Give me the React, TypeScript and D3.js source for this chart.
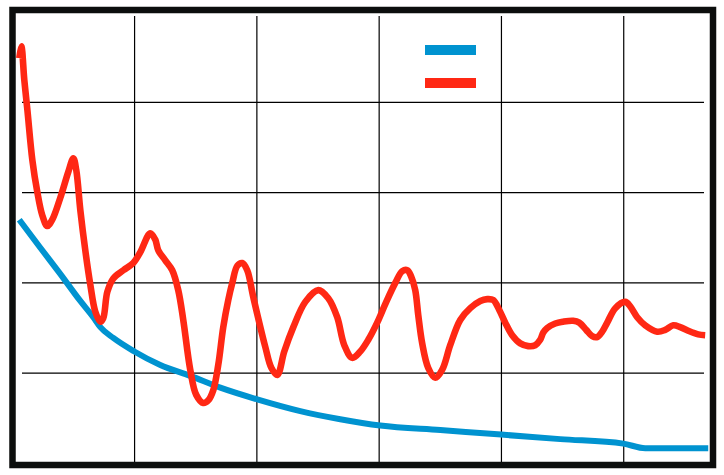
import React from "react";
import * as d3 from "d3";

const WIDTH = 724;
const HEIGHT = 475;

// x positions (data units) and values for the red series
const redX = [0.057, 0.074, 0.098, 0.123, 0.164, 0.204, 0.245, 0.286, 0.327, 0.392, 0.458, 0.499, 0.523, 0.556, 0.597, 0.638, 0.679, 0.72, 0.744, 0.777, 0.826, 0.908, 0.989, 1.047, 1.128, 1.169, 1.194, 1.251, 1.308, 1.357, 1.398, 1.455, 1.504, 1.562, 1.603, 1.643, 1.684, 1.725, 1.766, 1.799, 1.84, 1.881, 1.921, 1.971, 2.069, 2.118, 2.167, 2.224, 2.298, 2.396, 2.502, 2.584, 2.657, 2.715, 2.78, 2.845, 2.911, 2.984, 3.058, 3.132, 3.189, 3.23, 3.262, 3.295, 3.32, 3.352, 3.401, 3.459, 3.516, 3.581, 3.663, 3.745, 3.827, 3.884, 3.933, 3.982, 4.031, 4.088, 4.154, 4.219, 4.276, 4.317, 4.342, 4.374, 4.44, 4.505, 4.587, 4.636, 4.693, 4.742, 4.783, 4.824, 4.865, 4.931, 5.012, 5.053, 5.11, 5.176, 5.274, 5.339, 5.405, 5.462, 5.527, 5.609, 5.666];
const redY = [4.49, 4.62, 4.25, 3.92, 3.36, 3.01, 2.75, 2.63, 2.7, 2.94, 3.23, 3.38, 3.25, 2.81, 2.36, 1.98, 1.68, 1.57, 1.61, 1.9, 2.05, 2.14, 2.22, 2.34, 2.55, 2.48, 2.36, 2.25, 2.14, 1.92, 1.59, 1.04, 0.76, 0.67, 0.7, 0.81, 1.09, 1.51, 1.81, 2.0, 2.19, 2.22, 2.14, 1.84, 1.29, 1.06, 0.98, 1.24, 1.51, 1.79, 1.92, 1.83, 1.62, 1.31, 1.17, 1.24, 1.37, 1.56, 1.79, 2.0, 2.13, 2.14, 2.07, 1.92, 1.64, 1.33, 1.06, 0.95, 1.04, 1.31, 1.59, 1.72, 1.8, 1.82, 1.81, 1.7, 1.56, 1.42, 1.33, 1.3, 1.31, 1.37, 1.45, 1.5, 1.55, 1.57, 1.58, 1.56, 1.48, 1.41, 1.4, 1.46, 1.56, 1.72, 1.79, 1.74, 1.62, 1.53, 1.46, 1.48, 1.53, 1.51, 1.47, 1.43, 1.42];

// x positions and values for the blue series
const blueX = [0.057, 0.229, 0.392, 0.556, 0.662, 0.72, 0.826, 0.998, 1.21, 1.455, 1.701, 2.003, 2.355, 2.682, 3.009, 3.5, 3.998, 4.481, 4.996, 5.176, 5.691];
const blueY = [2.7, 2.39, 2.1, 1.8, 1.62, 1.51, 1.39, 1.24, 1.09, 0.97, 0.84, 0.71, 0.58, 0.49, 0.42, 0.37, 0.32, 0.27, 0.22, 0.17, 0.17];

const xTicks = [1, 2, 3, 4, 5];
const yTicks = [1, 2, 3, 4];

const BLUE = "#0093d0";
const RED = "#ff2814";

export default function App() {
  const x = d3.scaleLinear().domain([0, 5.73]).range([12.3, 713]);
  const y = d3.scaleLinear().domain([0, 5]).range([463.5, 12]);

  const line = d3
    .line<[number, number]>()
    .x((d) => x(d[0]))
    .y((d) => y(d[1]))
    .curve(d3.curveCatmullRom.alpha(0.5));

  const blueLine = d3
    .line<[number, number]>()
    .x((d) => x(d[0]))
    .y((d) => y(d[1]))
    .curve(d3.curveMonotoneX);

  const redData: [number, number][] = redX.map((v, i) => [v, redY[i]]);
  const blueData: [number, number][] = blueX.map((v, i) => [v, blueY[i]]);

  return (
    <svg
      width={WIDTH}
      height={HEIGHT}
      style={{ position: "absolute", left: 0, top: 0, background: "#fff" }}
    >
      <rect x={0} y={0} width={WIDTH} height={HEIGHT} fill="#fff" />
      {xTicks.map((t) => (
        <line
          key={"vx" + t}
          x1={x(t)}
          x2={x(t)}
          y1={16}
          y2={463}
          stroke="#000"
          strokeWidth={1.2}
        />
      ))}
      {yTicks.map((t) => (
        <line
          key={"hy" + t}
          x1={22}
          x2={704}
          y1={y(t)}
          y2={y(t)}
          stroke="#000"
          strokeWidth={1.2}
        />
      ))}
      <path
        d={blueLine(blueData) || ""}
        fill="none"
        stroke={BLUE}
        strokeWidth={6}
        strokeLinejoin="round"
      />
      <path
        d={line(redData) || ""}
        fill="none"
        stroke={RED}
        strokeWidth={6.6}
        strokeLinejoin="round"
      />
      <line x1={425} x2={476} y1={50} y2={50} stroke={BLUE} strokeWidth={10} />
      <line x1={425} x2={476} y1={83} y2={83} stroke={RED} strokeWidth={10} />
      <rect
        x={12.5}
        y={10}
        width={700.5}
        height={455}
        fill="none"
        stroke="#0c0e0d"
        strokeWidth={6.5}
      />
    </svg>
  );
}
